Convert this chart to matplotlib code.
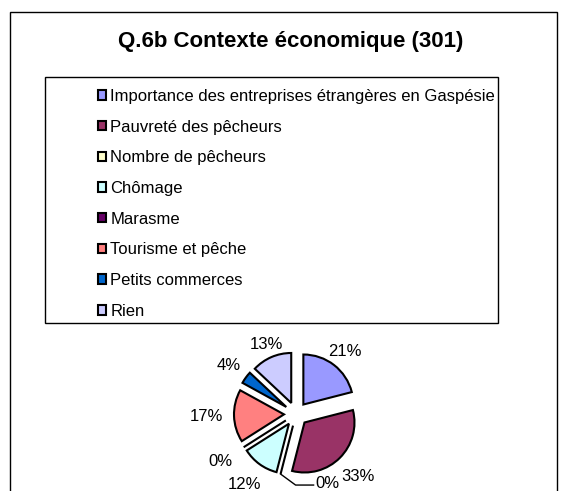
import numpy as np
import matplotlib.pyplot as plt
from matplotlib.patches import Rectangle

title = "Q.6b Contexte économique (301)"
categories = [
    "Importance des entreprises étrangères en Gaspésie",
    "Pauvreté des pêcheurs",
    "Nombre de pêcheurs",
    "Chômage",
    "Marasme",
    "Tourisme et pêche",
    "Petits commerces",
    "Rien",
]
values = [21, 33, 0, 12, 0, 17, 4, 13]
colors = ["#9999FF", "#993366", "#FFFFCC", "#CCFFFF",
          "#660066", "#FF8080", "#0066CC", "#CCCCFF"]

W, H = 568, 491
plt.rcParams["font.family"] = ["Liberation Sans", "DejaVu Sans"]
fig = plt.figure(figsize=(W / 100, H / 100), dpi=100)
fig.patch.set_facecolor("white")

# chart frame (runs off the bottom of the picture) and legend box
fig.patches.append(Rectangle((10 / W, -0.1), 547 / W, 1.1 - 12 / H, fill=False,
                             edgecolor="black", linewidth=1, transform=fig.transFigure))
fig.patches.append(Rectangle((45 / W, 1 - 323 / H), 453 / W, 246 / H, fill=False,
                             edgecolor="black", linewidth=1, transform=fig.transFigure))

fig.text(291 / W, 1 - 42 / H, title, ha="center", va="center",
         fontsize=16, fontweight="bold")

# pie: radius 1 data unit = 50 px
ax = fig.add_axes([196 / W, (H - 514) / H, 200 / W, 200 / H])
expl = 0.24
wedges, _ = ax.pie(values, colors=colors, startangle=90, counterclock=False,
                   explode=[expl] * len(values),
                   wedgeprops=dict(edgecolor="black", linewidth=1.5))
ax.set_xlim(-2, 2)
ax.set_ylim(-2, 2)
ax.set_aspect("equal")
ax.axis("off")

lead_idx = categories.index("Nombre de pêcheurs")
for i, w in enumerate(wedges):
    ang = np.deg2rad((w.theta1 + w.theta2) / 2)
    c, s = np.cos(ang), np.sin(ang)
    label = f"{values[i]}%"
    if i == lead_idx:
        p0 = np.array([c, s]) * (1 + expl)
        p1 = p0 + np.array([0.3, -0.22])
        p2 = p1 + np.array([0.36, 0])
        ax.plot([p0[0], p1[0], p2[0]], [p0[1], p1[1], p2[1]],
                color="black", linewidth=1, clip_on=False)
        ax.text(p2[0] + 0.04, p2[1] + 0.04, label, ha="left", va="center",
                fontsize=12, clip_on=False)
        continue
    d = 1.48 + 0.3 * abs(c) - 0.1 * s
    ax.text(d * c, d * s, label, ha="center", va="center", fontsize=12)

fig.legend(wedges, categories, loc="upper left",
           bbox_to_anchor=(98 / W, 1 - 89 / H), frameon=False, fontsize=12,
           handlelength=0.5, handleheight=0.5, handletextpad=0.25,
           labelspacing=0.94, borderpad=0, borderaxespad=0)

fig.savefig("out.png", dpi=100)
